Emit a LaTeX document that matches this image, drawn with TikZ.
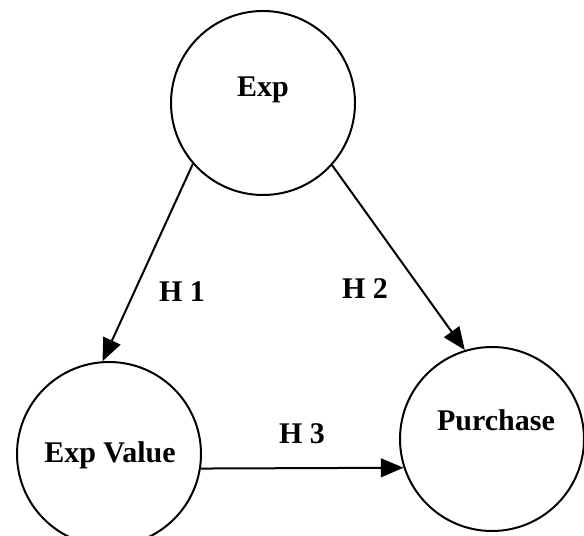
\documentclass[tikz,border=0pt]{standalone}
\usepackage{fontspec}
\setmainfont{Liberation Serif}
\usetikzlibrary{arrows.meta}
\newlength{\CircleSize}
\setlength{\CircleSize}{138pt}
\tikzset{
  construct/.style={draw, circle, line width=1.5pt, minimum size=\CircleSize, inner sep=0pt},
  construct name/.style={inner sep=0pt, font=\fontsize{22.5}{27}\selectfont\bfseries},
  hypothesis/.style={->, line width=1.5pt},
}

\begin{document}
\begin{tikzpicture}[
  >={Triangle[length=17pt, width=14pt]},
  x=0.75pt, y=0.75pt
]
  \useasboundingbox (0,0) rectangle (584,535);

  % constructs
  \node[construct] (exp) at (263,432) {};
  \node[construct] (expvalue) at (109,81) {};
  \node[construct] (purchase) at (492,96) {};

  \node[construct name] (exp text) at (263,445) {Exp};
  \node[construct name] (expvalue text) at (110,80) {Exp Value};
  \node[construct name] (purchase text) at (496,115) {Purchase};

  % hypotheses
  \draw[hypothesis] (exp.221) -- (expvalue.94);
  \draw[hypothesis] (exp.318) -- (purchase.107);
  \draw[hypothesis] (expvalue.351) -- (purchase.198);

  \node[construct name] (h1) at (182,243) {H 1};
  \node[construct name] (h2) at (365,246) {H 2};
  \node[construct name] (h3) at (302,101) {H 3};
\end{tikzpicture}
\end{document}
